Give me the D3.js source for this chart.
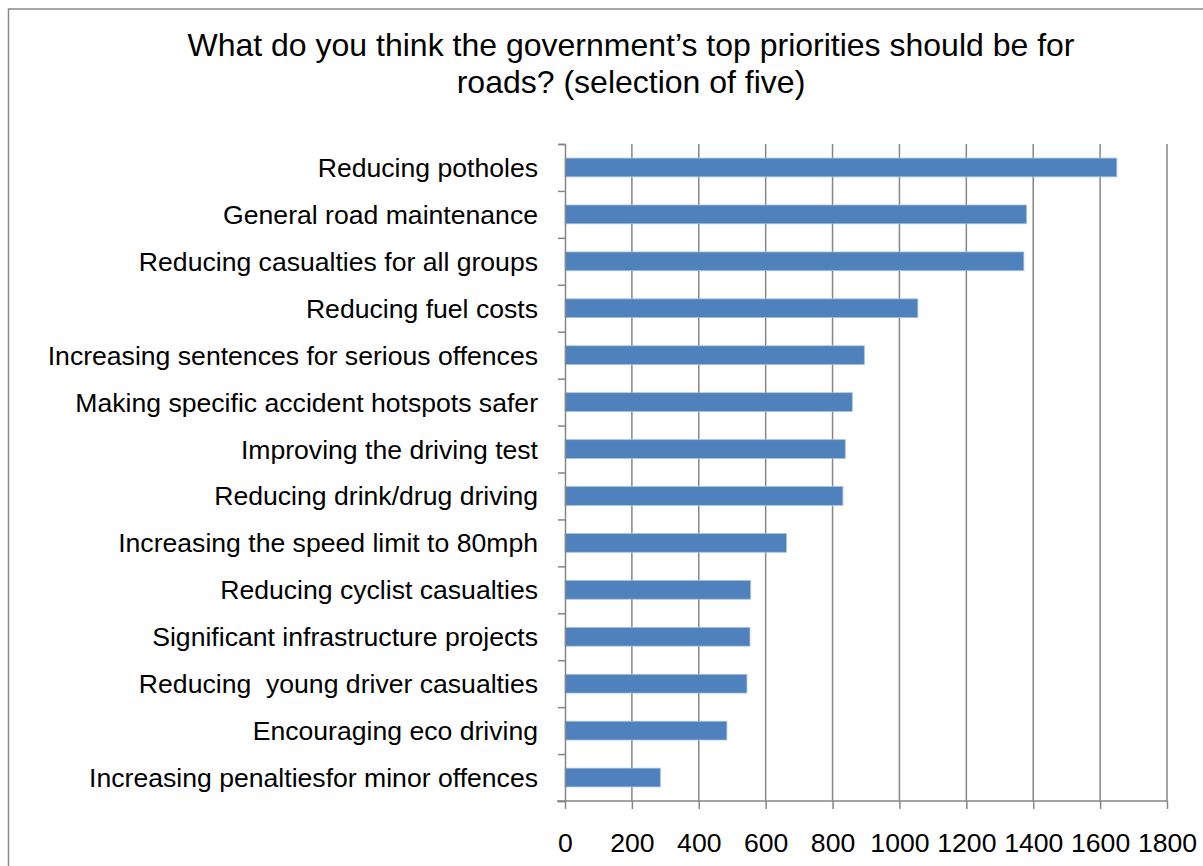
<!DOCTYPE html>
<html>
<head>
<meta charset="utf-8">
<script src="https://cdn.jsdelivr.net/npm/d3@7"></script>
<style>
  html, body { margin: 0; padding: 0; background: #fff; }
  svg { display: block; font-family: "Liberation Sans", Arial, sans-serif; }
  text { white-space: pre; }
</style>
</head>
<body>
<svg id="chart" width="1203" height="866"></svg>
<script>
// Survey responses: top road priorities (respondents could pick five)
const categories = [
  "Reducing potholes",
  "General road maintenance",
  "Reducing casualties for all groups",
  "Reducing fuel costs",
  "Increasing sentences for serious offences",
  "Making specific accident hotspots safer",
  "Improving the driving test",
  "Reducing drink/drug driving",
  "Increasing the speed limit to 80mph",
  "Reducing cyclist casualties",
  "Significant infrastructure projects",
  "Reducing  young driver casualties",
  "Encouraging eco driving",
  "Increasing penaltiesfor minor offences"
];
const votes = [1650, 1380, 1372, 1055, 895, 859, 838, 831, 662, 555, 553, 544, 484, 285];
const xTicks = [0, 200, 400, 600, 800, 1000, 1200, 1400, 1600, 1800];
const titleLines = [
  "What do you think the government\u2019s top priorities should be for",
  "roads? (selection of five)"
];

const svg = d3.select("#chart");
const axisColor = "#868686";

// outer chart frame (runs off the right and bottom edges)
svg.append("rect")
  .attr("x", 8.5).attr("y", 9)
  .attr("width", 1400).attr("height", 1000)
  .attr("fill", "none")
  .attr("stroke", "#8a8a8a")
  .attr("stroke-width", 1.5);

// title
svg.append("g")
  .selectAll("text")
  .data(titleLines)
  .join("text")
  .attr("x", 631)
  .attr("y", (d, i) => 56 + i * 37)
  .attr("text-anchor", "middle")
  .attr("font-size", 32)
  .attr("fill", "#000")
  .text(d => d);

const plot = { left: 565, right: 1167, top: 144, bottom: 801 };

const x = d3.scaleLinear().domain([0, 1800]).range([plot.left, plot.right]);
const y = d3.scaleBand()
  .domain(categories)
  .range([plot.top, plot.bottom])
  .paddingInner(0.6)
  .paddingOuter(0.3);

// vertical gridlines
svg.append("g")
  .selectAll("line")
  .data(xTicks.slice(1))
  .join("line")
  .attr("x1", d => x(d)).attr("x2", d => x(d))
  .attr("y1", plot.top).attr("y2", plot.bottom)
  .attr("stroke", axisColor)
  .attr("stroke-width", 1.5);

// bars
svg.append("g")
  .selectAll("rect")
  .data(categories.map((c, i) => ({ c, v: votes[i] })))
  .join("rect")
  .attr("x", x(0))
  .attr("y", d => y(d.c))
  .attr("width", d => x(d.v) - x(0))
  .attr("height", y.bandwidth())
  .attr("fill", "#4F81BD")
  .attr("stroke", "#a9c0de")
  .attr("stroke-width", 0.8);

// category axis: ticks sit between categories
const yBound = d3.scaleLinear().domain([0, categories.length]).range([plot.top, plot.bottom]);
const yAxis = svg.append("g")
  .attr("transform", `translate(${plot.left},0)`)
  .call(d3.axisLeft(yBound).tickValues(d3.range(categories.length + 1)).tickSize(7).tickFormat(""));
yAxis.select(".domain").attr("stroke", axisColor).attr("stroke-width", 1.5);
yAxis.selectAll(".tick line").attr("stroke", axisColor).attr("stroke-width", 1.5);

// category labels
svg.append("g")
  .selectAll("text")
  .data(categories)
  .join("text")
  .attr("x", 538)
  .attr("y", d => y(d) + y.bandwidth() / 2 + 9.5)
  .attr("text-anchor", "end")
  .attr("font-size", 26.6)
  .attr("fill", "#000")
  .text(d => d);

// value axis
const xAxis = svg.append("g")
  .attr("transform", `translate(0,${plot.bottom})`)
  .call(d3.axisBottom(x).tickValues(xTicks).tickSize(8).tickSizeOuter(0).tickPadding(24).tickFormat(d3.format("d")));
xAxis.select(".domain")
  .attr("d", `M${plot.left - 8},0H${plot.right}`)
  .attr("stroke", axisColor).attr("stroke-width", 1.5);
xAxis.selectAll(".tick line").attr("stroke", axisColor).attr("stroke-width", 1.5);
xAxis.selectAll(".tick text")
  .attr("font-size", 26.6)
  .attr("font-family", "Liberation Sans, Arial, sans-serif")
  .attr("fill", "#000");
</script>
</body>
</html>
